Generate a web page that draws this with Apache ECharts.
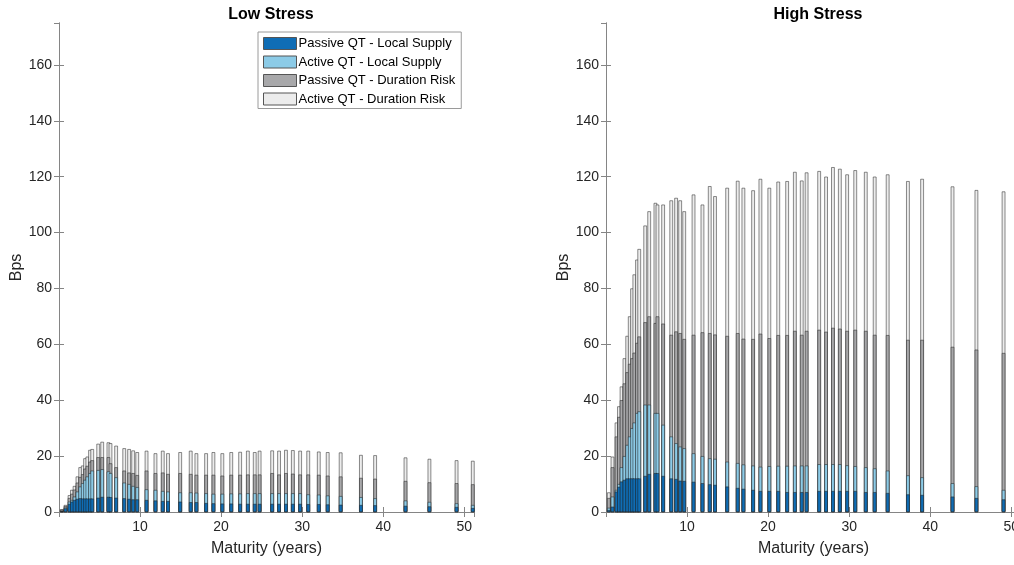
<!DOCTYPE html>
<html>
<head>
<meta charset="utf-8">
<script src="https://cdn.jsdelivr.net/npm/echarts@6/dist/echarts.min.js"></script>
<style>
  html, body { margin: 0; padding: 0; background: #fff; overflow: hidden; }
  /* the right panel runs past the window edge, as in the original */
  #chart { width: 1024px; height: 565px; }
</style>
</head>
<body>
<div id="chart"></div>
<script>
// maturities of the bonds (years)
var maturities = [0.35, 0.8, 1.3, 1.6, 1.92, 2.28, 2.62, 2.93, 3.22, 3.5, 3.83, 4.1, 4.84, 5.33, 6.1, 6.35, 7.05,
    8.05, 8.65, 9.15, 9.65, 10.8, 11.9, 12.8, 13.45, 14.95, 16.25, 16.95, 18.15, 19.05, 20.15, 21.25, 22.35,
    23.3, 24.15, 24.75, 26.3, 27.15, 28.0, 28.85, 29.75, 30.75, 32.05, 33.15, 34.75, 37.25, 39.0, 42.75,
    45.7, 49.05, 51.05];

// low stress (bps)
var lowPassiveLocal = [0.2, 1.3, 2.9, 3.7, 4.3, 4.7, 4.9, 4.8, 4.8, 4.8, 4.8, 4.8, 5.1, 5.4, 5.4, 5.3, 5.1,
    4.9, 4.7, 4.5, 4.5, 4.3, 4.1, 3.9, 3.9, 3.7, 3.5, 3.5, 3.2, 3.1, 3.0, 3.0, 2.9,
    2.9, 2.9, 2.9, 2.9, 2.9, 2.9, 2.9, 2.9, 2.8, 2.8, 2.7, 2.6, 2.5, 2.4, 2.2, 2.0, 1.8, 1.4];
var lowActiveLocal = [0.2, 0.3, 0.8, 0.6, 1.2, 2.6, 4.2, 5.5, 6.7, 7.9, 9.1, 10.0, 9.9, 9.9, 9.1, 8.6, 7.3,
    5.6, 5.3, 4.8, 4.4, 3.8, 3.8, 3.6, 3.4, 3.3, 3.5, 3.4, 3.5, 3.4, 3.5, 3.6, 3.7,
    3.8, 3.8, 3.8, 3.8, 3.8, 3.8, 3.8, 3.8, 3.5, 3.4, 3.2, 3.1, 2.8, 2.5, 1.9, 1.6, 1.3, 1.1];
var lowPassiveDur = [0.4, 0.5, 1.3, 2.2, 2.5, 3.2, 3.4, 3.2, 4.0, 3.8, 4.1, 3.7, 4.6, 4.3, 5.1, 3.5, 3.6,
    4.3, 4.1, 4.6, 4.3, 6.7, 6.0, 6.6, 6.3, 6.9, 6.6, 6.4, 6.6, 6.8, 6.5, 6.7, 6.7,
    6.7, 6.7, 6.7, 7.2, 6.7, 7.2, 7.0, 6.7, 7.1, 7.1, 7.1, 7.0, 6.9, 7.0, 7.0, 7.0, 7.2, 7.4];
var lowActiveDur = [0.2, 0.4, 1.0, 1.4, 1.3, 2.2, 3.5, 3.1, 3.7, 3.3, 4.2, 4.0, 4.8, 5.5, 5.3, 7.2, 7.7,
    8.0, 8.4, 8.1, 8.2, 7.1, 7.1, 7.8, 7.4, 7.5, 8.3, 7.7, 7.7, 8.1, 8.0, 8.1, 8.2,
    8.5, 8.0, 8.5, 8.1, 8.5, 8.3, 8.4, 8.5, 8.5, 8.3, 8.4, 8.6, 8.2, 8.4, 8.4, 8.4, 8.2, 8.4];

// high stress (bps)
var highPassiveLocal = [0.7, 1.9, 7.3, 9.0, 10.9, 11.5, 12.0, 12.0, 12.0, 12.0, 12.0, 12.0, 12.9, 13.6, 13.9, 13.9, 12.9,
    12.0, 11.8, 11.2, 11.1, 10.8, 10.3, 9.9, 9.7, 9.1, 8.6, 8.3, 7.9, 7.5, 7.5, 7.5, 7.1,
    7.1, 7.1, 7.1, 7.5, 7.5, 7.5, 7.5, 7.5, 7.5, 7.1, 7.1, 6.8, 6.3, 6.1, 5.5, 5.0, 4.5, 4.3];
var highActiveLocal = [0.8, 3.6, 0.6, 1.0, 5.1, 8.5, 12.0, 15.0, 18.0, 20.0, 23.4, 24.0, 25.5, 24.8, 21.5, 21.5, 18.3,
    15.0, 12.8, 12.2, 11.7, 10.2, 9.7, 9.3, 9.3, 8.9, 8.9, 8.7, 8.7, 8.7, 8.9, 9.0, 9.4,
    9.5, 9.5, 9.5, 9.6, 9.6, 9.6, 9.6, 9.2, 8.9, 8.9, 8.5, 8.0, 6.8, 6.3, 4.8, 4.2, 3.4, 3.2];
var highPassiveDur = [3.5, 10.5, 19.1, 24.0, 24.0, 26.0, 26.0, 26.0, 25.0, 25.0, 25.1, 26.8, 29.5, 31.6, 32.2, 34.6, 36.2,
    36.4, 40.0, 40.6, 39.1, 42.4, 44.3, 44.8, 44.5, 45.0, 46.5, 45.0, 45.3, 47.6, 45.8, 46.8, 46.8,
    48.2, 46.8, 48.2, 48.1, 47.4, 48.8, 48.5, 48.1, 48.8, 48.8, 47.8, 48.5, 48.5, 49.2, 48.8, 48.9, 49.0, 48.5];
var highActiveDur = [2.0, 3.8, 5.0, 3.8, 4.9, 9.0, 13.0, 17.0, 25.0, 28.0, 29.8, 31.3, 34.6, 37.6, 43.0, 40.0, 42.6,
    48.1, 47.8, 47.5, 45.7, 50.2, 45.7, 52.6, 49.5, 53.0, 54.5, 54.0, 53.2, 55.4, 53.8, 54.9, 55.1,
    56.9, 55.2, 56.7, 56.8, 55.5, 57.5, 57.2, 56.0, 57.1, 56.9, 56.6, 57.5, 56.8, 57.6, 57.4, 57.1, 57.8, 58.0];

var names = ['Passive QT - Local Supply', 'Active QT - Local Supply', 'Passive QT - Duration Risk', 'Active QT - Duration Risk'];
var colors = ['#0f6db5', '#8ccbe7', '#a8a8aa', '#ececec'];

var chart = echarts.init(document.getElementById('chart'));

var axisCol = '#858585';
var textCol = '#262626';

function xAxes(g) {
    return [
        {
            gridIndex: g, type: 'value', min: 0, max: 51.2, interval: 10, position: 'bottom',
            name: 'Maturity (years)', nameLocation: 'middle', nameGap: 29,
            nameTextStyle: { fontSize: 16, color: textCol, fontFamily: 'Liberation Sans' },
            axisLine: { lineStyle: { color: axisCol, width: 1 } },
            axisTick: { inside: true, length: 5, lineStyle: { color: axisCol } },
            axisLabel: { fontSize: 14, color: textCol, margin: 8, showMinLabel: false, showMaxLabel: false, fontFamily: 'Liberation Sans' },
            splitLine: { show: false }
        },
        {
            gridIndex: g, type: 'value', min: 0, max: 51.2, interval: 10, position: 'top',
            axisLine: { lineStyle: { color: axisCol, width: 1 } },
            axisTick: { inside: true, length: 5, lineStyle: { color: axisCol } },
            axisLabel: { show: false },
            splitLine: { show: false }
        }
    ];
}

function yAxes(g) {
    return [
        {
            gridIndex: g, type: 'value', min: 0, max: 175, interval: 20, position: 'left',
            name: 'Bps', nameLocation: 'middle', nameGap: 33,
            nameTextStyle: { fontSize: 16, color: textCol, fontFamily: 'Liberation Sans' },
            axisLine: { show: true, lineStyle: { color: axisCol, width: 1 } },
            axisTick: { inside: true, length: 5, lineStyle: { color: axisCol } },
            axisLabel: { fontSize: 14, color: textCol, margin: 7, showMaxLabel: false, fontFamily: 'Liberation Sans' },
            splitLine: { show: false }
        },
        {
            gridIndex: g, type: 'value', min: 0, max: 175, interval: 20, position: 'right',
            axisLine: { show: true, lineStyle: { color: axisCol, width: 1 } },
            axisTick: { inside: true, length: 5, lineStyle: { color: axisCol } },
            axisLabel: { show: false },
            splitLine: { show: false }
        }
    ];
}

var lowData = [lowPassiveLocal, lowActiveLocal, lowPassiveDur, lowActiveDur];
var highData = [highPassiveLocal, highActiveLocal, highPassiveDur, highActiveDur];

// stack by hand: each layer is drawn from zero up to its cumulative top,
// biggest first so the lower segments paint over it
var series = [];
[lowData, highData].forEach(function (set, g) {
    var tops = [];
    set.forEach(function (arr, k) {
        tops[k] = arr.map(function (v, i) { return v + (k > 0 ? tops[k - 1][i] : 0); });
    });
    for (var k = 3; k >= 0; k--) {
        series.push({
            name: names[k],
            type: 'bar',
            xAxisIndex: g * 2,
            yAxisIndex: g * 2,
            barWidth: 3.5,
            barGap: '-100%',
            itemStyle: { color: colors[k], borderColor: 'rgba(30,30,30,0.85)', borderWidth: 0.6 },
            emphasis: { disabled: true },
            data: maturities.map(function (m, i) { return [m, tops[k][i]]; })
        });
    }
});

var option = {
    animation: false,
    textStyle: { fontFamily: 'Liberation Sans' },
    title: [
        { text: 'Low Stress', left: 266, top: 2, textAlign: 'center',
          textStyle: { fontSize: 16, fontWeight: 'bold', color: '#000' } },
        { text: 'High Stress', left: 813, top: 2, textAlign: 'center',
          textStyle: { fontSize: 16, fontWeight: 'bold', color: '#000' } }
    ],
    legend: {
        data: names,
        orient: 'vertical',
        left: 258, top: 32,
        padding: [5, 6, 3, 5],
        itemWidth: 33, itemHeight: 12, itemGap: 5.5,
        icon: 'rect',
        backgroundColor: '#fff',
        borderColor: '#9a9a9a', borderWidth: 1,
        textStyle: { fontSize: 13, color: '#000', padding: [0, 0, 0, -3] },
        itemStyle: { borderColor: '#555', borderWidth: 1 }
    },
    grid: [
        { left: 59, top: 23, width: 415, height: 489 },
        { left: 606, top: 23, width: 415, height: 489 }
    ],
    xAxis: xAxes(0).concat(xAxes(1)),
    yAxis: yAxes(0).concat(yAxes(1)),
    series: series
};

chart.setOption(option);
</script>
</body>
</html>
